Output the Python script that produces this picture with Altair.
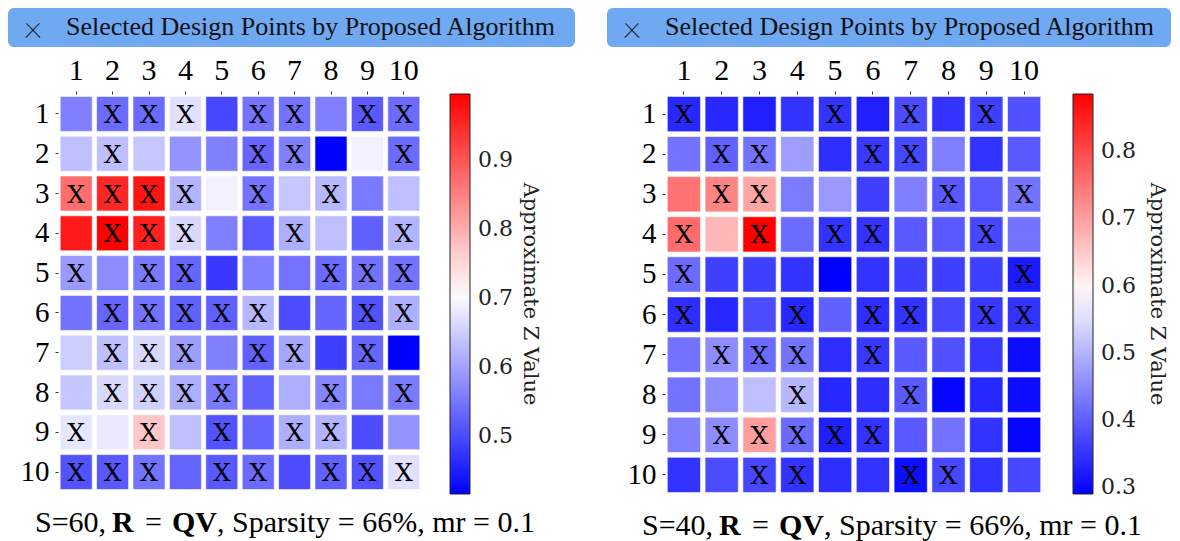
import altair as alt
import pandas as pd

COLS = list(range(1, 11))
ROWS = list(range(1, 11))

TITLE = "Selected Design Points by Proposed Algorithm"
CBAR_TITLE = "Approximate Z Value"

# ---- left panel (S=60) ----
left_values = [
    [0.561, 0.538, 0.538, 0.671, 0.497, 0.546, 0.546, 0.561, 0.517, 0.538],
    [0.633, 0.633, 0.642, 0.584, 0.561, 0.532, 0.561, 0.416, 0.691, 0.538],
    [0.871, 0.952, 0.972, 0.619, 0.691, 0.546, 0.642, 0.624, 0.555, 0.633],
    [0.966, 0.995, 0.960, 0.662, 0.561, 0.517, 0.613, 0.633, 0.526, 0.619],
    [0.590, 0.575, 0.555, 0.532, 0.480, 0.561, 0.546, 0.538, 0.546, 0.546],
    [0.546, 0.532, 0.546, 0.526, 0.526, 0.624, 0.503, 0.532, 0.509, 0.613],
    [0.648, 0.633, 0.662, 0.595, 0.561, 0.526, 0.604, 0.488, 0.532, 0.416],
    [0.642, 0.662, 0.653, 0.613, 0.555, 0.526, 0.613, 0.567, 0.555, 0.555],
    [0.677, 0.682, 0.769, 0.633, 0.509, 0.532, 0.613, 0.619, 0.503, 0.584],
    [0.509, 0.517, 0.546, 0.532, 0.517, 0.538, 0.503, 0.526, 0.509, 0.671],
]
left_selected = [
    [2, 3, 4, 6, 7, 9, 10],
    [2, 6, 7, 10],
    [1, 2, 3, 4, 6, 8],
    [2, 3, 4, 7, 10],
    [1, 3, 4, 8, 9, 10],
    [2, 3, 4, 5, 6, 9, 10],
    [2, 3, 4, 6, 7, 9],
    [2, 3, 4, 5, 8, 10],
    [1, 3, 5, 7, 8],
    [1, 2, 3, 5, 6, 8, 9, 10],
]
left_domain = [0.416, 0.7055, 0.995]
left_ticks = [0.5, 0.6, 0.7, 0.8, 0.9]
left_caption = ["S=60,", "R", "=", "QV", ", Sparsity = 66%, mr = 0.1"]

# ---- right panel (S=40) ----
right_values = [
    [0.335, 0.335, 0.326, 0.350, 0.350, 0.326, 0.379, 0.350, 0.364, 0.385],
    [0.424, 0.403, 0.424, 0.474, 0.344, 0.355, 0.373, 0.439, 0.350, 0.394],
    [0.751, 0.730, 0.692, 0.433, 0.469, 0.364, 0.439, 0.394, 0.394, 0.424],
    [0.760, 0.671, 0.885, 0.415, 0.350, 0.350, 0.394, 0.394, 0.373, 0.424],
    [0.415, 0.364, 0.364, 0.350, 0.290, 0.350, 0.364, 0.364, 0.364, 0.320],
    [0.344, 0.335, 0.379, 0.335, 0.403, 0.344, 0.350, 0.373, 0.355, 0.350],
    [0.424, 0.454, 0.415, 0.424, 0.344, 0.355, 0.394, 0.385, 0.355, 0.305],
    [0.424, 0.454, 0.513, 0.504, 0.335, 0.344, 0.394, 0.296, 0.335, 0.305],
    [0.439, 0.454, 0.701, 0.415, 0.326, 0.350, 0.394, 0.424, 0.350, 0.296],
    [0.350, 0.379, 0.373, 0.350, 0.344, 0.350, 0.305, 0.373, 0.350, 0.373],
]
right_selected = [
    [1, 5, 7, 9],
    [2, 3, 6, 7],
    [2, 3, 8, 10],
    [1, 3, 5, 6, 9],
    [1, 10],
    [1, 4, 6, 7, 9, 10],
    [2, 3, 4, 6],
    [4, 7],
    [2, 3, 4, 5, 6],
    [3, 4, 7, 8],
]
right_domain = [0.29, 0.5875, 0.885]
right_ticks = [0.3, 0.4, 0.5, 0.6, 0.7, 0.8]
right_caption = ["S=40,", "R", "=", "QV", ", Sparsity = 66%, mr = 0.1"]


def make_df(values, selected):
    recs = []
    for r, (vals, sel) in zip(ROWS, zip(values, selected)):
        for c, v in zip(COLS, vals):
            recs.append({"row": r, "col": c, "value": v, "sel": "X" if c in sel else ""})
    return pd.DataFrame(recs)


SERIF = "Liberation Serif"
DJ = "DejaVu Serif"
one = pd.DataFrame({"k": [0]})


def panel(values, selected, domain, ticks, caption, w, h, banner_x, banner_x2,
          legend_offset, cbar_title_x):
    df = make_df(values, selected)
    base = alt.Chart(df)
    x = alt.X(
        "col:O", title=None,
        scale=alt.Scale(paddingInner=0.12, paddingOuter=0.06),
        axis=alt.Axis(orient="top", labelAngle=0, domain=False, tickSize=3,
                      tickColor="#333", labelPadding=6, labelFont=SERIF,
                      labelFontSize=30, labelColor="black"),
    )
    y = alt.Y(
        "row:O", title=None,
        scale=alt.Scale(paddingInner=0.12, paddingOuter=0.06),
        axis=alt.Axis(orient="left", domain=False, tickSize=3, tickColor="#333",
                      labelPadding=6, labelFont=SERIF, labelFontSize=29,
                      labelColor="black"),
    )
    color = alt.Color(
        "value:Q",
        scale=alt.Scale(domain=domain, range=["#0000ff", "#ffffff", "#ff0000"],
                        interpolate="rgb"),
        legend=alt.Legend(
            title=None, values=ticks, gradientLength=400,
            gradientThickness=20, offset=legend_offset,
            gradientStrokeColor="#222", gradientStrokeWidth=1,
            labelFont=DJ, labelFontSize=22, labelColor="#222", labelOffset=8,
        ),
    )
    rect = base.mark_rect(stroke="white", strokeOpacity=0.6, strokeWidth=1).encode(
        x=x, y=y, color=color
    )
    xs = base.transform_filter(alt.datum.sel == "X").mark_text(
        font=DJ, fontSize=25, color="black", baseline="middle", dy=1
    ).encode(x=x, y=y, text="sel:N")

    banner = alt.Chart(one).mark_rect(color="#6EA9F1", cornerRadius=6).encode(
        x=alt.value(banner_x), x2=alt.value(banner_x2),
        y=alt.value(-86), y2=alt.value(-47),
    )
    cross = alt.Chart(one).mark_text(
        font="Roboto", fontSize=36, color="#111", baseline="middle",
        align="center", fontWeight=100,
    ).encode(x=alt.value(banner_x + 25), y=alt.value(-67), text=alt.value("\u00d7"))
    title = alt.Chart(one).mark_text(
        font=SERIF, fontSize=26, color="#111", baseline="middle", align="left"
    ).encode(x=alt.value(banner_x + 58), y=alt.value(-67), text=alt.value(TITLE))
    cbt = alt.Chart(one).mark_text(
        font=DJ, fontSize=21, color="#222", baseline="middle", align="center", angle=90
    ).encode(x=alt.value(cbar_title_x), y=alt.value(200), text=alt.value(CBAR_TITLE))

    offs = [-23, 54, 87, 114, 159]
    bold = [False, True, False, True, False]
    caps = []
    for t, o, b in zip(caption, offs, bold):
        caps.append(
            alt.Chart(one).mark_text(
                font=SERIF, fontSize=30, color="black", baseline="alphabetic",
                align="left", fontWeight="bold" if b else "normal",
            ).encode(x=alt.value(o), y=alt.value(h + 40), text=alt.value(t))
        )
    return alt.layer(banner, cross, title, cbt, rect, xs, *caps).properties(width=w, height=h)


left = panel(left_values, left_selected, left_domain, left_ticks, left_caption,
             364, 398, -50, 517, 28, 472)
right = panel(right_values, right_selected, right_domain, right_ticks, right_caption,
              378, 401, -58, 506, 30, 492)

chart = (
    alt.hconcat(left, right, spacing=32)
    .resolve_scale(color="independent")
    .properties(padding=0, background="white")
    .configure_view(stroke=None)
)

chart.save("out.html", embed_options={"renderer": "svg", "actions": False})
